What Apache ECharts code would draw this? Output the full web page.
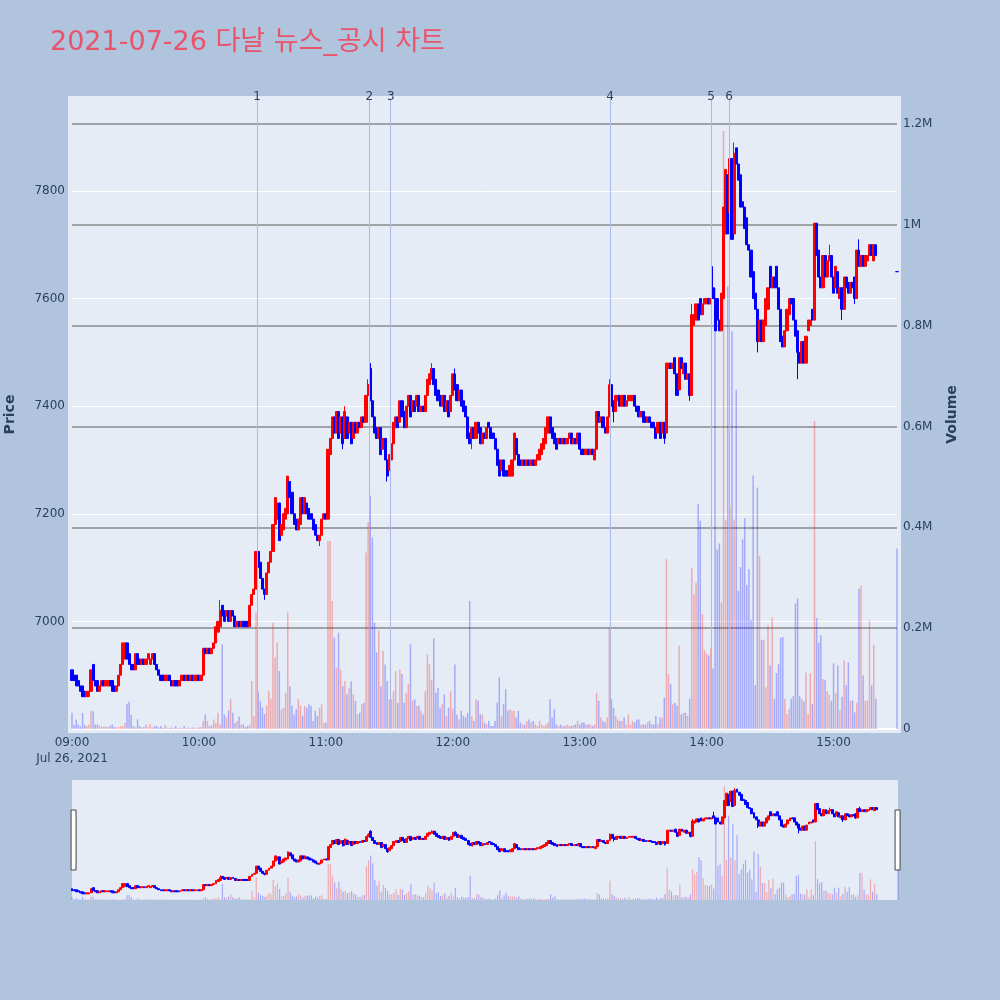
<!DOCTYPE html>
<html>
<head>
<meta charset="utf-8">
<script src="https://cdn.jsdelivr.net/npm/echarts@6/dist/echarts.min.js"></script>
<style>html,body{margin:0;padding:0;background:#b0c4de;}#chart{width:1000px;height:1000px;}</style>
</head>
<body>
<div id="chart"></div>
<script>
// ---- data: one candle per minute from 09:00 to 15:20, then the 15:30 closing auction ----
const titleText = '2021-07-26 다날 뉴스_공시 차트';
const dateLabel = 'Jul 26, 2021';
const open = [
6910,6900,6900,6890,6880,6880,6870,6860,6860,6870,
6920,6890,6890,6870,6880,6890,6880,6880,6890,6890,
6880,6870,6880,6900,6920,6930,6960,6940,6920,6920,
6910,6940,6930,6920,6930,6920,6930,6920,6930,6940,
6920,6910,6900,6900,6890,6890,6900,6890,6880,6890,
6890,6880,6890,6900,6890,6900,6890,6900,6890,6890,
6900,6890,6900,6950,6940,6950,6940,6950,6960,6980,
6990,7030,7020,7010,7020,7000,7020,7010,6990,7000,
6990,7000,7000,7000,6990,7030,7050,7060,7130,7110,
7080,7060,7050,7090,7110,7130,7180,7190,7220,7160,
7170,7190,7200,7260,7240,7200,7190,7170,7180,7230,
7200,7220,7210,7200,7190,7180,7160,7150,7160,7190,
7200,7190,7310,7340,7380,7350,7390,7350,7380,7340,
7380,7350,7370,7340,7370,7350,7370,7360,7380,7370,
7420,7470,7410,7380,7360,7340,7360,7320,7340,7300,
7280,7300,7330,7360,7380,7370,7410,7390,7360,7400,
7420,7390,7410,7400,7420,7390,7400,7390,7420,7440,
7450,7470,7450,7430,7420,7400,7420,7390,7410,7390,
7420,7460,7440,7410,7430,7410,7400,7380,7350,7340,
7360,7340,7370,7360,7330,7350,7340,7370,7360,7350,
7340,7320,7300,7280,7300,7280,7280,7270,7270,7300,
7340,7310,7300,7290,7300,7290,7300,7290,7300,7290,
7300,7300,7310,7320,7330,7350,7380,7360,7350,7340,
7330,7340,7330,7340,7330,7340,7350,7330,7340,7330,
7350,7320,7320,7310,7320,7310,7320,7300,7320,7390,
7370,7380,7360,7350,7380,7440,7410,7390,7410,7420,
7400,7420,7400,7410,7410,7410,7420,7400,7400,7380,
7390,7380,7370,7380,7370,7370,7360,7350,7370,7350,
7370,7350,7470,7480,7470,7490,7460,7430,7490,7460,
7480,7450,7460,7420,7550,7560,7590,7600,7570,7590,
7590,7600,7590,7620,7600,7600,7560,7540,7600,7720,
7830,7760,7860,7720,7880,7850,7830,7780,7770,7750,
7700,7690,7650,7610,7580,7520,7560,7520,7550,7580,
7660,7620,7640,7660,7620,7580,7530,7510,7540,7570,
7600,7600,7560,7540,7500,7480,7520,7480,7540,7550,
7580,7560,7740,7690,7640,7620,7680,7640,7670,7680,
7640,7620,7650,7600,7620,7580,7640,7630,7610,7630,
7640,7600,7690,7660,7680,7660,7670,7680,7700,7670,
7700];
const close = [
6890,6890,6880,6880,6870,6860,6860,6870,6870,6910,
6890,6880,6870,6880,6890,6880,6890,6890,6880,6870,
6870,6880,6900,6920,6960,6960,6930,6920,6910,6910,
6940,6920,6920,6930,6920,6930,6940,6930,6940,6920,
6910,6900,6890,6890,6900,6900,6890,6880,6890,6880,
6880,6890,6900,6890,6900,6890,6900,6890,6900,6900,
6890,6900,6950,6940,6950,6940,6950,6960,6990,7000,
7020,7010,7000,7020,7000,7020,7010,6990,7000,6990,
7000,6990,6990,6990,7030,7050,7060,7130,7100,7080,
7060,7050,7090,7110,7130,7180,7230,7220,7150,7180,
7200,7210,7270,7230,7200,7180,7170,7190,7230,7200,
7230,7200,7190,7190,7170,7160,7150,7160,7190,7200,
7190,7320,7340,7380,7350,7390,7340,7380,7330,7390,
7340,7370,7330,7370,7350,7370,7360,7380,7370,7420,
7440,7410,7380,7350,7340,7360,7310,7340,7300,7270,
7310,7330,7370,7380,7360,7410,7380,7360,7400,7420,
7380,7410,7390,7420,7390,7400,7390,7420,7450,7460,
7470,7440,7420,7410,7400,7420,7390,7410,7380,7420,
7460,7430,7410,7430,7400,7390,7380,7340,7330,7360,
7340,7370,7350,7330,7350,7340,7360,7360,7340,7340,
7320,7290,7270,7300,7270,7270,7270,7290,7300,7350,
7310,7290,7290,7300,7290,7300,7290,7300,7290,7300,
7310,7320,7330,7340,7360,7380,7350,7340,7330,7320,
7340,7330,7340,7330,7340,7350,7330,7340,7330,7350,
7320,7310,7310,7320,7310,7320,7310,7320,7390,7370,
7380,7360,7350,7380,7440,7400,7390,7420,7420,7400,
7420,7400,7410,7420,7420,7420,7400,7390,7380,7390,
7370,7370,7380,7370,7360,7360,7340,7370,7340,7370,
7340,7480,7480,7470,7480,7460,7420,7490,7470,7480,
7450,7460,7420,7570,7570,7590,7560,7570,7590,7600,
7600,7590,7600,7600,7540,7560,7540,7610,7770,7840,
7720,7860,7710,7870,7850,7820,7770,7770,7730,7700,
7690,7640,7600,7580,7520,7560,7520,7560,7600,7620,
7620,7640,7620,7620,7580,7520,7510,7540,7580,7600,
7590,7560,7530,7500,7480,7520,7480,7530,7560,7560,
7560,7740,7680,7640,7620,7680,7640,7670,7680,7640,
7610,7660,7610,7620,7580,7640,7620,7610,7630,7620,
7600,7690,7660,7680,7660,7680,7680,7700,7680,7700,
7680];
const high = [
6910,6900,6900,6890,6880,6880,6870,6870,6870,6910,
6920,6890,6890,6880,6890,6890,6890,6890,6890,6890,
6880,6880,6900,6920,6960,6960,6960,6940,6920,6920,
6940,6940,6930,6930,6930,6930,6940,6930,6940,6940,
6920,6910,6900,6900,6900,6900,6900,6890,6890,6890,
6890,6890,6900,6900,6900,6900,6900,6900,6900,6900,
6900,6900,6950,6950,6950,6950,6950,6960,6990,7000,
7040,7030,7020,7020,7020,7020,7020,7010,7000,7000,
7000,7000,7000,7000,7030,7050,7060,7130,7130,7110,
7080,7060,7090,7110,7130,7180,7230,7220,7220,7180,
7200,7210,7270,7260,7240,7200,7190,7190,7230,7230,
7230,7220,7210,7200,7190,7180,7160,7160,7190,7200,
7200,7320,7340,7380,7380,7390,7390,7380,7380,7400,
7380,7370,7370,7370,7370,7370,7370,7380,7380,7420,
7450,7480,7410,7380,7360,7360,7360,7340,7340,7300,
7310,7330,7370,7380,7380,7410,7410,7390,7400,7420,
7420,7410,7410,7420,7420,7400,7400,7420,7450,7460,
7480,7470,7450,7430,7420,7420,7420,7410,7410,7420,
7460,7470,7440,7430,7430,7410,7400,7380,7350,7360,
7360,7370,7370,7360,7350,7350,7360,7370,7360,7350,
7340,7320,7300,7300,7300,7280,7280,7290,7300,7350,
7340,7310,7300,7300,7300,7300,7300,7300,7300,7300,
7310,7320,7330,7340,7360,7380,7380,7360,7350,7340,
7340,7340,7340,7340,7340,7350,7350,7340,7340,7350,
7350,7320,7320,7320,7320,7320,7320,7320,7390,7390,
7380,7380,7360,7380,7450,7440,7410,7420,7420,7420,
7420,7420,7410,7420,7420,7420,7420,7400,7400,7390,
7390,7380,7380,7380,7370,7370,7360,7370,7370,7370,
7370,7480,7480,7480,7480,7490,7460,7490,7490,7480,
7480,7460,7460,7590,7570,7590,7590,7600,7590,7600,
7600,7600,7600,7660,7600,7600,7560,7610,7770,7840,
7830,7860,7860,7890,7880,7850,7830,7780,7770,7750,
7700,7690,7650,7610,7580,7560,7560,7560,7600,7620,
7660,7640,7640,7660,7620,7580,7530,7540,7580,7600,
7600,7600,7560,7540,7500,7520,7520,7530,7560,7560,
7580,7740,7740,7690,7640,7680,7680,7670,7700,7680,
7640,7660,7650,7620,7620,7640,7640,7630,7630,7630,
7640,7690,7710,7680,7680,7680,7680,7700,7700,7700,
7700];
const low = [
6890,6890,6880,6880,6870,6860,6860,6860,6860,6870,
6890,6880,6870,6870,6880,6880,6880,6880,6880,6870,
6870,6870,6880,6900,6920,6930,6930,6920,6910,6910,
6910,6920,6920,6920,6920,6920,6930,6920,6930,6920,
6910,6900,6890,6890,6890,6890,6890,6880,6880,6880,
6880,6880,6890,6890,6890,6890,6890,6890,6890,6890,
6890,6890,6900,6940,6940,6940,6940,6950,6960,6980,
6990,7010,7000,7010,7000,7000,7010,6990,6990,6990,
6990,6990,6990,6990,6990,7030,7050,7060,7100,7080,
7060,7040,7050,7090,7110,7130,7180,7190,7150,7160,
7170,7190,7200,7230,7200,7180,7170,7170,7180,7200,
7200,7200,7190,7190,7170,7160,7150,7140,7160,7190,
7190,7190,7310,7340,7350,7350,7340,7350,7320,7340,
7340,7350,7330,7340,7350,7350,7360,7360,7370,7370,
7420,7410,7380,7350,7340,7340,7310,7320,7300,7260,
7280,7300,7330,7360,7360,7370,7380,7360,7360,7400,
7380,7390,7390,7400,7390,7390,7390,7390,7420,7440,
7450,7440,7420,7410,7400,7400,7390,7390,7380,7390,
7420,7430,7410,7410,7400,7390,7380,7340,7330,7320,
7340,7340,7350,7330,7330,7340,7340,7360,7340,7340,
7320,7290,7270,7280,7270,7270,7270,7270,7270,7300,
7310,7290,7290,7290,7290,7290,7290,7290,7290,7290,
7300,7300,7310,7320,7330,7350,7350,7340,7330,7320,
7330,7330,7330,7330,7330,7340,7330,7330,7330,7330,
7320,7310,7310,7310,7310,7310,7310,7300,7320,7370,
7370,7360,7350,7350,7380,7400,7370,7390,7410,7400,
7400,7400,7400,7410,7410,7410,7400,7390,7380,7380,
7370,7370,7370,7370,7360,7360,7340,7350,7340,7350,
7330,7350,7470,7470,7470,7460,7420,7430,7470,7460,
7450,7450,7410,7420,7550,7560,7560,7570,7570,7590,
7590,7590,7590,7600,7540,7560,7540,7540,7600,7720,
7720,7760,7710,7720,7850,7820,7770,7770,7730,7700,
7690,7640,7600,7580,7500,7520,7520,7520,7550,7580,
7620,7620,7620,7620,7580,7520,7510,7510,7540,7570,
7590,7560,7530,7450,7480,7480,7480,7480,7540,7550,
7560,7560,7680,7640,7620,7620,7640,7640,7670,7640,
7610,7620,7610,7600,7560,7580,7620,7610,7610,7620,
7590,7600,7660,7660,7660,7660,7670,7680,7680,7670,
7680];
// volume per minute, in thousands of shares
const volumeK = [
32,8,19,9,5,32,8,6,9,36,
35,9,9,6,5,4,5,4,6,9,
4,3,4,6,6,12,49,54,28,6,
4,19,6,3,4,9,4,9,3,6,
6,3,6,2,8,3,2,3,2,6,
2,3,2,6,2,3,2,3,3,2,
3,4,16,29,16,6,8,19,12,32,
9,168,29,23,37,59,32,12,16,25,
9,9,4,6,9,95,26,231,75,55,
43,30,47,75,60,211,142,171,115,39,
42,72,231,85,46,29,39,59,46,26,
46,42,49,46,16,36,26,42,49,13,
13,373,373,254,181,122,191,118,85,95,
69,82,94,69,56,29,32,49,52,350,
410,463,380,211,152,195,85,155,128,95,
59,59,75,115,52,118,109,52,72,89,
168,56,59,46,46,36,29,75,148,128,
98,180,72,82,42,49,69,26,42,75,
40,128,29,19,36,26,23,32,254,26,
16,59,56,29,29,13,10,16,6,6,
16,52,102,26,49,79,36,39,36,36,
23,36,13,9,9,16,19,13,16,9,
6,16,9,6,9,13,59,23,39,9,
6,9,6,6,9,6,6,8,9,16,
9,13,13,9,9,9,6,9,72,56,
23,16,13,23,201,59,42,26,19,16,
16,23,9,29,9,16,13,19,19,9,
9,9,13,16,9,9,26,9,23,23,
62,337,109,89,49,52,46,165,29,32,
32,26,60,320,267,290,447,413,228,157,
150,146,161,120,875,356,368,251,1186,415,
878,442,789,415,673,274,321,376,418,286,
317,216,503,87,479,344,177,177,83,206,
126,221,60,111,128,181,182,60,30,40,
60,65,249,259,65,60,55,112,30,111,
50,611,220,171,186,99,97,75,68,56,
130,72,126,37,64,136,87,132,56,57,
33,52,278,284,106,56,56,215,87,167,
60];
const closingTime = '15:30';
const closingPrice = 7650;
const closingVolumeK = 358;
// news / disclosure markers
const newsTimes = ['10:27:27','11:20:30','11:30:40','13:14:20','14:02:06','14:10:36'];
const newsLabels = ['1','2','3','4','5','6'];
const priceTicks = [7000, 7200, 7400, 7600, 7800];

// ---- build ----
const UP = '#ff0000', DOWN = '#0000ff';
const UP_V = 'rgba(255,0,0,0.28)', DOWN_V = 'rgba(0,0,255,0.28)';
const pad = n => (n < 10 ? '0' : '') + n;
const cats = [];
for (let m = 0; m <= 390; m++) cats.push(pad(9 + Math.floor(m / 60)) + ':' + pad(m % 60));
const candles = cats.map((t, i) => {
  if (i < open.length) return [open[i], close[i], low[i], high[i]];
  if (t === closingTime) return [closingPrice, closingPrice, closingPrice, closingPrice];
  return '-';
});
const vols = cats.map((t, i) => {
  if (i < open.length) return {value: volumeK[i] * 1000, itemStyle: {color: close[i] > open[i] ? UP_V : DOWN_V}};
  if (t === closingTime) return {value: closingVolumeK * 1000, itemStyle: {color: DOWN_V}};
  return '-';
});
const toMin = s => { const p = s.split(':').map(Number); return (p[0] - 9) * 60 + p[1] + (p[2] || 0) / 60; };
const markers = newsTimes.map((t, i) => ({xAxis: toMin(t), label: {formatter: newsLabels[i]}}));

const FONT = "'DejaVu Sans', 'Noto Sans CJK KR', sans-serif";
const TXT = '#2a3f5f';
const PMIN = 6800, PMAX = 7969, VMAX = 1247700;

const chart = echarts.init(document.getElementById('chart'), null, {renderer: 'canvas'});
chart.setOption({
  animation: false,
  backgroundColor: '#b0c4de',
  textStyle: {fontFamily: FONT},
  title: {text: titleText, left: 50, top: 29, padding: 0,
    textStyle: {color: '#e9546b', fontSize: 27, fontWeight: 'normal', fontFamily: FONT}},
  graphic: [{type: 'rect', z: -10, silent: true, shape: {x: 68, y: 96, width: 833, height: 637}, style: {fill: '#e5ecf6'}}],
  grid: [
    {left: 72, right: 103, top: 100, bottom: 271, containLabel: false, outerBoundsMode: 'none'},
    {left: 72, right: 102, top: 780, height: 120, show: true, backgroundColor: '#e5ecf6', borderWidth: 0,
     containLabel: false, outerBoundsMode: 'none'}
  ],
  xAxis: [
    {type: 'category', gridIndex: 0, data: cats, boundaryGap: false,
     axisLine: {show: true, onZero: false, lineStyle: {color: '#ffffff', width: 2}},
     axisTick: {show: false}, splitLine: {show: false},
     axisLabel: {interval: i => i % 60 === 0, color: TXT, fontSize: 12, fontFamily: FONT, margin: 6, lineHeight: 16,
       formatter: (v, i) => i === 0 ? v + '\n' + dateLabel : v}},
    {type: 'value', gridIndex: 0, min: 0, max: 390, show: false},
    {type: 'category', gridIndex: 1, data: cats, boundaryGap: false, show: false}
  ],
  yAxis: [
    {type: 'value', gridIndex: 0, position: 'left', min: PMIN, max: PMAX, interval: 200,
     name: 'Price', nameLocation: 'middle', nameGap: 55, nameRotate: 90,
     nameTextStyle: {color: TXT, fontSize: 14, fontWeight: 'bold', fontFamily: FONT},
     axisLine: {show: false}, axisTick: {show: false},
     axisLabel: {color: TXT, fontSize: 12, fontFamily: FONT, margin: 7, showMinLabel: false, showMaxLabel: false,
       formatter: v => priceTicks.indexOf(v) >= 0 ? String(v) : ''},
     splitLine: {show: true, showMinLine: false, showMaxLine: false, lineStyle: {color: '#ffffff', width: 1}}},
    {type: 'value', gridIndex: 0, position: 'right', min: 0, max: VMAX, interval: 200000,
     name: 'Volume', nameLocation: 'middle', nameGap: 48, nameRotate: 90,
     nameTextStyle: {color: TXT, fontSize: 14, fontWeight: 'bold', fontFamily: FONT},
     axisLine: {show: false}, axisTick: {show: false},
     axisLabel: {color: TXT, fontSize: 12, fontFamily: FONT, margin: 6, showMaxLabel: false,
       formatter: v => v === 0 ? '0' : (v % 200000 === 0 ? (v / 1e6) + 'M' : '')},
     splitLine: {show: true, showMinLine: false, showMaxLine: false, lineStyle: {color: '#8a8a8a', width: 1.5}}},
    {type: 'value', gridIndex: 1, min: PMIN, max: PMAX, show: false},
    {type: 'value', gridIndex: 1, min: 0, max: VMAX, show: false}
  ],
  dataZoom: [{
    type: 'slider', xAxisIndex: [2], start: 0, end: 100, left: 72, right: 102, top: 780, height: 120,
    backgroundColor: 'rgba(0,0,0,0)', borderColor: 'rgba(0,0,0,0)', fillerColor: 'rgba(0,0,0,0)',
    showDataShadow: false, showDetail: false, brushSelect: false, moveHandleSize: 0,
    dataBackground: {lineStyle: {opacity: 0}, areaStyle: {opacity: 0}},
    selectedDataBackground: {lineStyle: {opacity: 0}, areaStyle: {opacity: 0}},
    handleIcon: 'path://M0,0 H5 V60 H0 Z', handleSize: '50%',
    handleStyle: {color: '#ffffff', borderColor: '#444444', borderWidth: 1},
    emphasis: {handleStyle: {color: '#ffffff', borderColor: '#444444', borderWidth: 1}}
  }],
  series: [
    {type: 'bar', name: 'Volume', xAxisIndex: 0, yAxisIndex: 1, data: vols, barWidth: 1.5, z: 1, silent: true},
    {type: 'candlestick', name: 'Price', xAxisIndex: 0, yAxisIndex: 0, data: candles, barWidth: 2.6, z: 3,
     itemStyle: {color: UP, color0: DOWN, borderColor: UP, borderColor0: DOWN, borderWidth: 1}},
    {type: 'line', xAxisIndex: 1, yAxisIndex: 0, data: [], z: 4, silent: true,
     markLine: {silent: true, symbol: ['none', 'none'], animation: false,
       lineStyle: {color: '#a9b7ec', width: 1, type: 'solid'},
       label: {show: true, position: 'end', distance: -3, color: TXT, fontSize: 12, fontFamily: FONT},
       data: markers}},
    {type: 'bar', xAxisIndex: 2, yAxisIndex: 3, data: vols, barWidth: 1.2, z: 1, silent: true},
    {type: 'candlestick', xAxisIndex: 2, yAxisIndex: 2, data: candles, barWidth: 2.4, z: 3, silent: true,
     itemStyle: {color: UP, color0: DOWN, borderColor: UP, borderColor0: DOWN, borderWidth: 1}}
  ]
});
</script>
</body>
</html>
